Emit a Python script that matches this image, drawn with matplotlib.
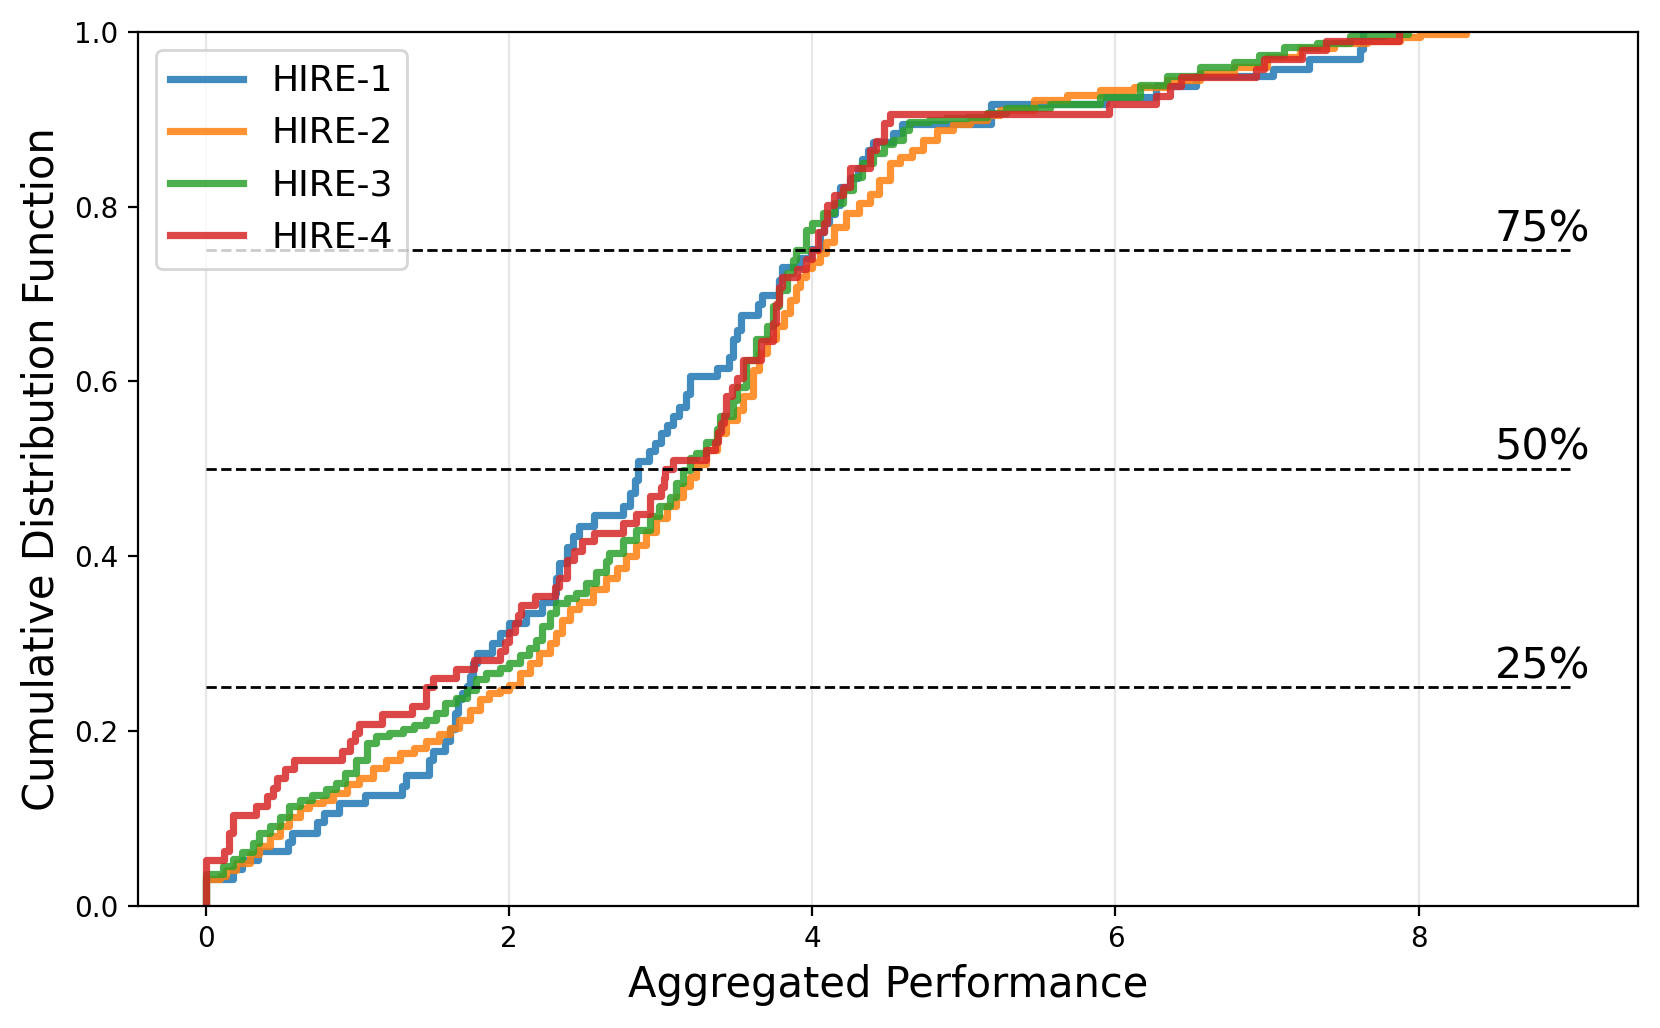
import numpy as np
import matplotlib.pyplot as plt

# Step breakpoints of each empirical CDF (x where the curve jumps, y after the jump)
hire1_x = [0, 0, 0.18, 0.24, 0.34, 0.54, 0.57, 0.73, 0.78, 0.88, 1.05, 1.29, 1.32, 1.47, 1.50,
           1.58, 1.61, 1.64, 1.66, 1.69, 1.72, 1.74, 1.76, 1.79, 1.89, 1.94, 2.00, 2.11, 2.22,
           2.30, 2.31, 2.33, 2.38, 2.42, 2.46, 2.56, 2.75, 2.80, 2.83, 2.85, 2.92, 2.96, 3.00,
           3.04, 3.08, 3.12, 3.17, 3.19, 3.37, 3.45, 3.48, 3.50, 3.53, 3.64, 3.67, 3.78, 3.80,
           3.92, 3.99, 4.05, 4.08, 4.11, 4.15, 4.18, 4.25, 4.30, 4.33, 4.37, 4.40, 4.53, 4.59,
           5.18, 5.94, 6.27, 6.53, 7.04, 7.28, 7.61, 7.63]
hire1_y = [0, 0.031, 0.042, 0.052, 0.063, 0.073, 0.083, 0.096, 0.106, 0.117, 0.127, 0.137, 0.150,
           0.167, 0.177, 0.188, 0.202, 0.221, 0.236, 0.243, 0.251, 0.263, 0.278, 0.289, 0.301,
           0.312, 0.324, 0.335, 0.347, 0.358, 0.375, 0.392, 0.411, 0.423, 0.434, 0.447, 0.457,
           0.472, 0.487, 0.509, 0.520, 0.530, 0.541, 0.550, 0.560, 0.571, 0.585, 0.606, 0.615,
           0.628, 0.648, 0.659, 0.676, 0.688, 0.699, 0.716, 0.731, 0.741, 0.752, 0.771, 0.781,
           0.792, 0.802, 0.823, 0.833, 0.844, 0.855, 0.865, 0.874, 0.884, 0.895, 0.917, 0.925,
           0.938, 0.949, 0.958, 0.969, 0.980, 1.0]

hire2_x = [0, 0, 0.09, 0.13, 0.20, 0.29, 0.35, 0.42, 0.49, 0.55, 0.62, 0.68, 0.77, 0.84, 0.93,
           1.01, 1.10, 1.19, 1.28, 1.37, 1.45, 1.54, 1.61, 1.67, 1.74, 1.81, 1.87, 1.94, 2.00,
           2.07, 2.14, 2.20, 2.27, 2.31, 2.35, 2.40, 2.46, 2.55, 2.64, 2.71, 2.77, 2.84, 2.90,
           2.97, 3.04, 3.10, 3.15, 3.19, 3.23, 3.30, 3.37, 3.43, 3.50, 3.54, 3.61, 3.65, 3.70,
           3.76, 3.81, 3.85, 3.89, 3.92, 3.96, 4.00, 4.05, 4.09, 4.14, 4.22, 4.31, 4.38, 4.44,
           4.51, 4.58, 4.66, 4.73, 4.82, 4.93, 5.04, 5.15, 5.24, 5.46, 5.68, 5.90, 6.12, 6.34,
           6.56, 6.78, 7.00, 7.22, 7.44, 7.66, 7.88, 8.01, 8.31]
hire2_y = [0, 0.030, 0.034, 0.041, 0.049, 0.059, 0.068, 0.080, 0.091, 0.102, 0.112, 0.118, 0.121,
           0.129, 0.139, 0.146, 0.158, 0.167, 0.175, 0.181, 0.188, 0.196, 0.203, 0.213, 0.224,
           0.236, 0.243, 0.247, 0.253, 0.266, 0.278, 0.289, 0.301, 0.312, 0.327, 0.339, 0.348,
           0.362, 0.375, 0.386, 0.400, 0.413, 0.428, 0.444, 0.457, 0.468, 0.480, 0.491, 0.505,
           0.522, 0.541, 0.556, 0.567, 0.583, 0.613, 0.632, 0.648, 0.663, 0.678, 0.693, 0.708,
           0.720, 0.730, 0.737, 0.747, 0.760, 0.777, 0.793, 0.804, 0.815, 0.830, 0.850, 0.857,
           0.865, 0.876, 0.888, 0.895, 0.899, 0.905, 0.911, 0.922, 0.928, 0.933, 0.937, 0.945,
           0.953, 0.960, 0.971, 0.981, 0.987, 0.990, 0.994, 0.997, 1.0]

hire3_x = [0, 0, 0.11, 0.18, 0.24, 0.31, 0.35, 0.42, 0.49, 0.55, 0.62, 0.70, 0.79, 0.86, 0.92,
           0.99, 1.06, 1.12, 1.21, 1.30, 1.37, 1.45, 1.52, 1.58, 1.65, 1.72, 1.78, 1.85, 1.94,
           2.00, 2.07, 2.13, 2.18, 2.22, 2.27, 2.31, 2.38, 2.44, 2.51, 2.57, 2.64, 2.66, 2.75,
           2.84, 2.93, 2.99, 3.06, 3.10, 3.15, 3.19, 3.23, 3.30, 3.37, 3.39, 3.48, 3.50, 3.56,
           3.63, 3.70, 3.74, 3.78, 3.83, 3.87, 3.89, 3.96, 4.00, 4.07, 4.14, 4.20, 4.27, 4.33,
           4.40, 4.47, 4.53, 4.60, 4.64, 4.77, 4.88, 5.02, 5.15, 5.28, 5.57, 5.90, 6.16, 6.34,
           6.56, 6.78, 6.95, 7.11, 7.33, 7.55, 7.77, 7.93]
hire3_y = [0, 0.036, 0.045, 0.053, 0.061, 0.072, 0.083, 0.091, 0.101, 0.114, 0.121, 0.127, 0.133,
           0.140, 0.152, 0.167, 0.186, 0.194, 0.198, 0.202, 0.207, 0.213, 0.221, 0.232, 0.238,
           0.247, 0.259, 0.266, 0.272, 0.278, 0.287, 0.295, 0.304, 0.320, 0.335, 0.346, 0.352,
           0.358, 0.369, 0.382, 0.395, 0.404, 0.419, 0.430, 0.446, 0.457, 0.468, 0.484, 0.499,
           0.512, 0.518, 0.531, 0.545, 0.560, 0.579, 0.594, 0.625, 0.648, 0.663, 0.686, 0.705,
           0.724, 0.739, 0.750, 0.773, 0.781, 0.793, 0.804, 0.819, 0.834, 0.850, 0.861, 0.872,
           0.876, 0.888, 0.897, 0.899, 0.901, 0.903, 0.907, 0.913, 0.918, 0.926, 0.939, 0.949,
           0.960, 0.966, 0.973, 0.983, 0.987, 0.995, 0.997, 1.0]

hire4_x = [0, 0, 0.12, 0.15, 0.18, 0.33, 0.40, 0.44, 0.47, 0.52, 0.58, 0.90, 0.95, 0.98, 1.01,
           1.16, 1.36, 1.45, 1.50, 1.65, 1.77, 1.94, 1.97, 2.00, 2.04, 2.06, 2.08, 2.17, 2.30,
           2.33, 2.38, 2.43, 2.48, 2.56, 2.75, 2.84, 2.93, 3.00, 3.02, 3.03, 3.08, 3.30, 3.36,
           3.38, 3.40, 3.42, 3.43, 3.47, 3.50, 3.54, 3.66, 3.74, 3.76, 3.78, 3.80, 3.90, 3.96,
           4.00, 4.04, 4.08, 4.10, 4.14, 4.20, 4.25, 4.38, 4.42, 4.47, 4.51, 5.96, 6.27, 6.36,
           6.43, 6.93, 6.98, 7.23, 7.39, 7.87]
hire4_y = [0, 0.052, 0.062, 0.083, 0.104, 0.114, 0.125, 0.135, 0.146, 0.156, 0.167, 0.177, 0.188,
           0.198, 0.208, 0.219, 0.229, 0.250, 0.260, 0.271, 0.281, 0.292, 0.302, 0.313, 0.323,
           0.333, 0.344, 0.354, 0.365, 0.375, 0.396, 0.406, 0.417, 0.427, 0.438, 0.448, 0.469,
           0.479, 0.490, 0.500, 0.510, 0.521, 0.531, 0.542, 0.552, 0.562, 0.583, 0.594, 0.604,
           0.625, 0.646, 0.667, 0.688, 0.708, 0.719, 0.729, 0.740, 0.750, 0.771, 0.781, 0.802,
           0.813, 0.823, 0.844, 0.865, 0.875, 0.896, 0.906, 0.917, 0.927, 0.938, 0.948, 0.958,
           0.969, 0.979, 0.990, 1.0]

labels = ['HIRE-1', 'HIRE-2', 'HIRE-3', 'HIRE-4']
quantiles = [0.25, 0.5, 0.75]
quantile_labels = ['25%', '50%', '75%']

fig = plt.figure(figsize=(8.3, 5.14), dpi=200)
ax = fig.add_axes([0.083, 0.119, 0.904, 0.85])

series = [(hire1_x, hire1_y), (hire2_x, hire2_y), (hire3_x, hire3_y), (hire4_x, hire4_y)]
colors = ['tab:blue', 'tab:orange', 'tab:green', 'tab:red']
for (xs, ys), lab, c in zip(series, labels, colors):
    ax.step(xs, ys, where='post', color=c, lw=2.6, alpha=0.85, label=lab)

# quartile reference lines
for q, qlab in zip(quantiles, quantile_labels):
    ax.hlines(q, 0, 9, colors='k', linestyles='--', lw=1)
    ax.text(8.5, q, qlab, fontsize=15.5, va='bottom', ha='left')

ax.grid(axis='x', alpha=0.3)
ax.set_xlim(-0.45, 9.45)
ax.set_ylim(0, 1)
ax.set_xticks([0, 2, 4, 6, 8])
ax.tick_params(labelsize=10)
ax.set_xlabel('Aggregated Performance', fontsize=15)
ax.set_ylabel('Cumulative Distribution Function', fontsize=15)
ax.legend(loc='upper left', fontsize=13)

plt.savefig('out.png', dpi=200)
